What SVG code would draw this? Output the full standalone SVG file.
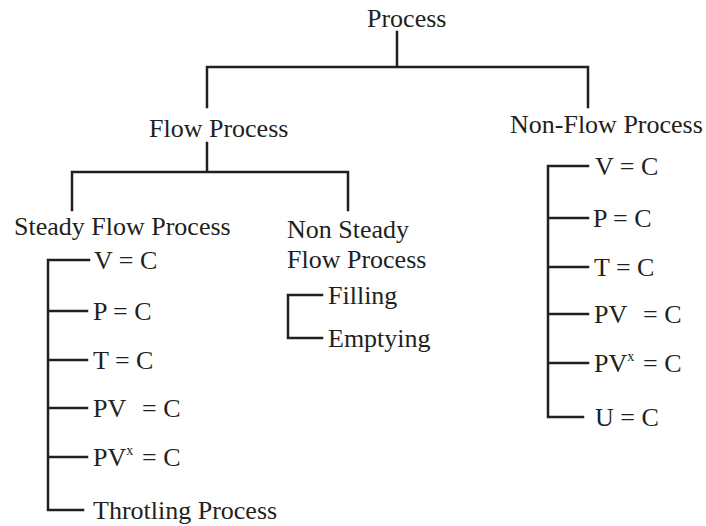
<svg xmlns="http://www.w3.org/2000/svg" width="706" height="526" viewBox="0 0 706 526">
<style>
text{font-family:"Liberation Serif","Times New Roman",serif;font-size:26px;fill:#231f20}
.sup{font-size:14px}
.c{fill:none;stroke:#231f20;stroke-width:2.5;stroke-linecap:square;stroke-linejoin:miter}
</style>
<rect width="706" height="526" fill="#fff"/>
<g id="connectors">
<path class="c" d="M397 32V67M207 107V67H588V107"/>
<path class="c" d="M207 143V172M72 210V172H348V210"/>
<path class="c" d="M89 260H48V510H83M48 311H87M48 360H87M48 408H87M48 457H87"/>
<path class="c" d="M322 295H288V338H322"/>
<path class="c" d="M588 166H548V417H583M548 218H588M548 267H588M548 314H588M548 363H588"/>
</g>
<g id="process"><text x="367" y="27">Process</text></g>
<g id="flow-process"><text x="149" y="137">Flow Process</text></g>
<g id="non-flow-process"><text x="510" y="133">Non-Flow Process</text></g>
<g id="steady-flow-process"><text x="14" y="235">Steady Flow Process</text></g>
<g id="non-steady-flow-process"><text x="287" y="238">Non Steady</text><text x="287" y="268">Flow Process</text></g>
<g id="filling"><text x="328" y="304">Filling</text></g>
<g id="emptying"><text x="328" y="347">Emptying</text></g>
<g id="sf-v"><text x="94" y="269">V = C</text></g>
<g id="sf-p"><text x="93" y="320">P = C</text></g>
<g id="sf-t"><text x="93" y="369">T = C</text></g>
<g id="sf-pv"><text x="93" y="417">PV</text><text x="142" y="417">= C</text></g>
<g id="sf-pvx"><text x="93" y="466">PV<tspan class="sup" dy="-11">x</tspan><tspan x="142" dy="11">= C</tspan></text></g>
<g id="sf-throttling"><text x="93" y="519">Throtling Process</text></g>
<g id="nf-v"><text x="595" y="175">V = C</text></g>
<g id="nf-p"><text x="593" y="227">P = C</text></g>
<g id="nf-t"><text x="594" y="276">T = C</text></g>
<g id="nf-pv"><text x="594" y="323">PV</text><text x="643" y="323">= C</text></g>
<g id="nf-pvx"><text x="594" y="372">PV<tspan class="sup" dy="-11">x</tspan><tspan x="643" dy="11">= C</tspan></text></g>
<g id="nf-u"><text x="595" y="426">U = C</text></g>
</svg>
